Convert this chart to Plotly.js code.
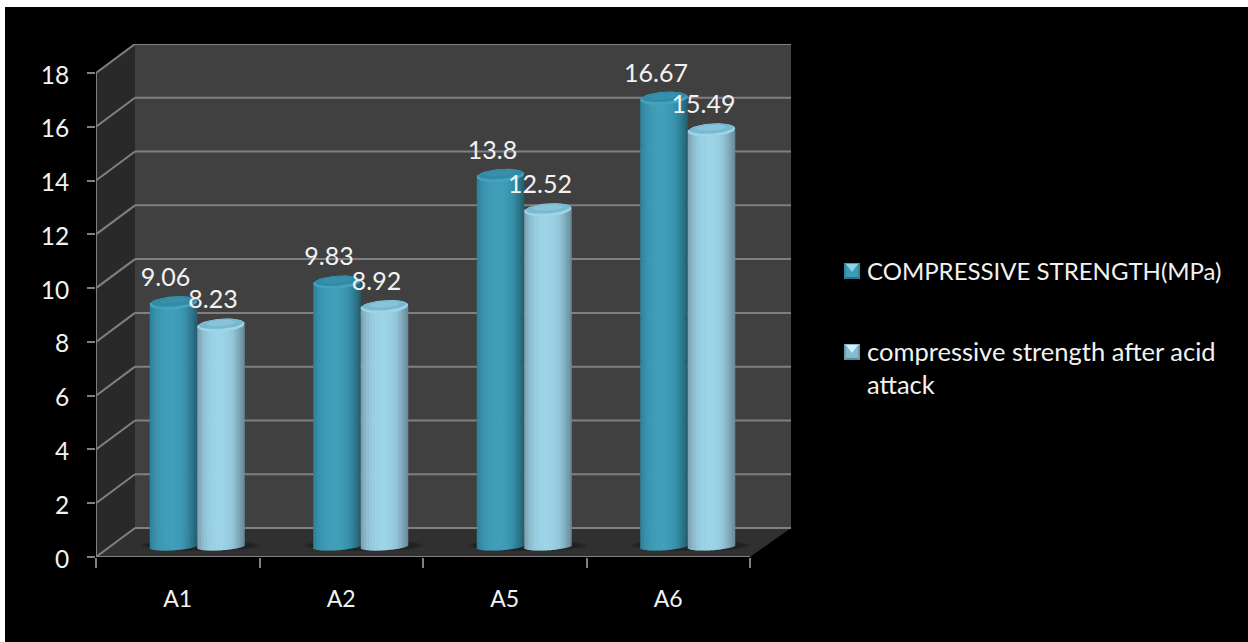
<!DOCTYPE html>
<html>
<head>
<meta charset="utf-8">
<script src="https://cdn.plot.ly/plotly-3.0.1.min.js"></script>
<style>html,body{margin:0;padding:0;background:#fff;overflow:hidden}#chart{width:1248px;height:642px}</style>
</head>
<body>
<div id="chart"></div>
<script>
// Compressive strength of four mixes, before and after acid attack.
const categories = ['A1', 'A2', 'A5', 'A6'];
const strengthBefore = [9.06, 9.83, 13.8, 16.67];
const strengthAfter = [8.23, 8.92, 12.52, 15.49];
const yTicks = [0, 2, 4, 6, 8, 10, 12, 14, 16, 18];
const seriesNames = ['COMPRESSIVE STRENGTH(MPa)', 'compressive strength after acid<br>attack'];

// Page geometry in pixels.
const W = 1248, H = 642;
const frontLeft = 96, frontRight = 750, frontBottom = 557, frontTop = 73;
const depthX = 41, depthY = 29;
const pxPerCat = (frontRight - frontLeft) / categories.length;
const pxPerUnit = (frontBottom - frontTop) / 18;
const dx = v => v / pxPerCat;   // pixel width to category units
const dy = v => v / pxPerUnit;  // pixel height to value units
const xAt = px => -0.5 + dx(px - frontLeft);
const xMax = xAt(frontRight + depthX);
const yMax = dy(frontBottom - (frontTop - depthY));

// Cylinder look: each column is a run of narrow bars shaded across its width.
const stripCount = 32;
const cylW = 47.5, capB = 6.5, baseB = 3.8, capTilt = 1.6, baseTilt = 1.6;
const floorLift = 10.5;   // cylinders stand in the middle of the floor's depth
const pairShift = 19.5;   // pair centre relative to the category centre
const rampTeal = ['#2f8199', '#3a93ad', '#3f9cb7', '#419fba', '#419fba', '#3e9ab4', '#3890a9', '#2d7a91', '#255c6d'];
const rampLight = ['#7d9fae', '#8fc0d2', '#9acfe3', '#9dd4e8', '#9dd4e8', '#9acfe3', '#92c5d8', '#80a9ba', '#66899a'];
const capTeal = ['#45a3be', '#2f8ba7', '#388fa9'];
const capLight = ['#9dd5e8', '#78b9d1', '#88c3d8'];

function hexMix(a, b, t) {
  const p = s => [1, 3, 5].map(i => parseInt(s.substr(i, 2), 16));
  const A = p(a), B = p(b);
  return 'rgb(' + A.map((v, i) => Math.round(v + (B[i] - v) * t)).join(',') + ')';
}
function rampColor(ramp, t) {
  const f = t * (ramp.length - 1), i = Math.min(Math.floor(f), ramp.length - 2);
  return hexMix(ramp[i], ramp[i + 1], f - i);
}

const traces = [];

function addCylinders(values, side, ramp, capColors, name) {
  // side -1: left column of the pair, +1: right column
  const left = pairShift + (side < 0 ? -cylW : 0);
  const stripW = cylW / stripCount;
  for (let s = 0; s < stripCount; s++) {
    const u = (s + 0.5) / stripCount * 2 - 1;
    const low = baseB * Math.sqrt(1 - u * u) + baseTilt * (-u);
    const bases = values.map(() => dy(floorLift - low));
    const tops = values.map((v, i) => v + dy(floorLift) - bases[i]);
    traces.push({
      type: 'bar', x: categories, y: tops, base: bases,
      offset: dx(left + s * stripW), width: dx(stripW + (s < stripCount - 1 ? 0.6 : 0)),
      marker: {color: rampColor(ramp, (s + 0.5) / stripCount), line: {width: 0}},
      name: name, showlegend: false, hoverinfo: 'skip'
    });
  }
  // Top of the cylinder: light rim, darker face, small highlight
  const ring = (cx, cy, a, b, tilt) => {
    const xs = [], ys = [];
    for (let k = 0; k <= 60; k++) {
      const t = k / 60 * 2 * Math.PI;
      xs.push(cx + dx(a * Math.cos(t)));
      ys.push(cy + dy(b * Math.sin(t) + tilt * Math.cos(t)));
    }
    return {xs, ys};
  };
  const layers = [
    [cylW / 2, capB, 0, capTilt, 0],
    [cylW / 2 - 1.5, capB - 1.6, 1.3, capTilt, 1],
    [cylW / 2 - 9, capB - 3.5, 2.2, capTilt * 0.6, 2]
  ];
  layers.forEach(l => {
    const xs = [], ys = [];
    values.forEach((v, i) => {
      const c = ring(i + dx(left + cylW / 2), v + dy(floorLift + l[2]), l[0], l[1], l[3]);
      xs.push(...c.xs, null); ys.push(...c.ys, null);
    });
    traces.push({
      type: 'scatter', mode: 'lines', x: xs, y: ys, xaxis: 'x2', yaxis: 'y', fill: 'toself',
      fillcolor: capColors[l[4]], line: {width: 0}, showlegend: false, hoverinfo: 'skip'
    });
  });
}

addCylinders(strengthBefore, -1, rampTeal, capTeal, 'COMPRESSIVE STRENGTH(MPa)');
addCylinders(strengthAfter, 1, rampLight, capLight, 'compressive strength after acid attack');

// Value labels sit up and to the left of each cylinder top.
function labelTrace(values, side) {
  const shift = pairShift + side * cylW / 2 - 8;
  return {
    type: 'scatter', mode: 'text', xaxis: 'x2', yaxis: 'y',
    x: values.map((v, i) => i + dx(shift)),
    y: values.map(v => v + dy(floorLift + 23)),
    text: values.map(String), textposition: 'middle center',
    textfont: {family: 'Lato, sans-serif', size: 25, color: '#f2f2f2'},
    cliponaxis: false, showlegend: false, hoverinfo: 'skip'
  };
}
traces.push(labelTrace(strengthBefore, -1), labelTrace(strengthAfter, 1));

// Box walls, floor and gridlines
const gridColor = '#808080';
const shapes = [];
const poly = (pts, fill, layer) => ({
  type: 'path', xref: 'x2', yref: 'y', layer: layer || 'below',
  path: pts.map((p, i) => (i ? 'L' : 'M') + p[0] + ',' + p[1]).join(' ') + ' Z',
  fillcolor: fill, line: {width: 0}
});
const backLeft = xAt(frontLeft + 39), backRight = xMax, lift = dy(depthY);
const fl = xAt(frontLeft), fr = xAt(frontRight);

shapes.push({type: 'rect', xref: 'paper', yref: 'paper', layer: 'below',
  x0: 5 / W, x1: 1, y0: 0, y1: 1 - 7 / H, fillcolor: '#000', line: {width: 0}});
shapes.push(poly([[backLeft, lift], [backRight, lift], [backRight, yMax], [backLeft, yMax]], '#404040'));
shapes.push(poly([[fl, 0], [backLeft, lift], [backLeft, yMax], [fl, 18]], '#292929'));
shapes.push(poly([[fl, 0], [backLeft, lift], [backRight, lift], [fr, 0]], '#303030'));

yTicks.forEach(v => {
  const line = {width: 2, color: gridColor};
  shapes.push({type: 'line', xref: 'x2', yref: 'y', layer: 'below', x0: backLeft, x1: backRight, y0: v + lift, y1: v + lift, line});
  shapes.push({type: 'line', xref: 'x2', yref: 'y', layer: 'below', x0: fl, x1: backLeft, y0: v, y1: v + lift, line});
});
// Axis lines along the front edges
shapes.push({type: 'line', xref: 'x2', yref: 'y', layer: 'below', x0: fl, x1: fl, y0: 0, y1: 18, line: {width: 2, color: gridColor}});
shapes.push({type: 'line', xref: 'x2', yref: 'y', layer: 'below', x0: fl, x1: fr, y0: 0, y1: 0, line: {width: 2, color: gridColor}});

// Soft contact shadows on the floor beside each pair
categories.forEach((c, i) => {
  [[-cylW - 9, cylW * 2 + 24, 5.5, 0.35], [-cylW - 4, cylW * 2 + 14, 4.5, 0.4]].forEach(s => {
    shapes.push({type: 'circle', xref: 'x2', yref: 'y', layer: 'below',
      x0: i + dx(pairShift + s[0]), x1: i + dx(pairShift + s[0] + s[1]),
      y0: dy(floorLift - s[2] + 1), y1: dy(floorLift + s[2] + 1),
      fillcolor: '#181818', opacity: s[3], line: {width: 0}});
  });
});

// Legend: bevelled swatches with the series names beside them
const px = v => v / W, py = v => 1 - v / H;
function swatch(x0, y0, size, base, top, bottom, side) {
  const P = (x, y) => px(x) + ',' + py(y);
  const x1 = x0 + size, y1 = y0 + size, mx = x0 + size / 2, my = y0 + size / 2 + 1;
  const tri = (pts, color) => ({type: 'path', xref: 'paper', yref: 'paper', layer: 'above',
    path: 'M' + pts.map(p => P(p[0], p[1])).join(' L') + ' Z', fillcolor: color, line: {width: 0}});
  shapes.push(tri([[x0, y0], [x1, y0], [x1, y1], [x0, y1]], base));
  shapes.push(tri([[x0, y1], [x1, y1], [x1 - 2, y1 - 2], [x0 + 2, y1 - 2]], bottom));
  shapes.push(tri([[x0, y0], [x0 + 2, y0 + 2], [x0 + 2, y1 - 2], [x0, y1]], side));
  shapes.push(tri([[x1, y0], [x1 - 2, y0 + 2], [x1 - 2, y1 - 2], [x1, y1]], side));
  shapes.push(tri([[x0 + 2, y0 + 1], [x1 - 2, y0 + 1], [mx, my]], top));
}
swatch(844, 263, 16, '#3f9cb7', '#8fd4e6', '#2b7088', '#33859e');
swatch(844, 344, 16, '#83bcd0', '#d5f0f8', '#5f8a9a', '#7099aa');

const annotations = [
  {xref: 'paper', yref: 'paper', x: px(865), y: py(270.5), xanchor: 'left', yanchor: 'middle',
   align: 'left', showarrow: false, text: seriesNames[0],
   font: {family: 'Lato, sans-serif', size: 24, color: '#f2f2f2'}},
  {xref: 'paper', yref: 'paper', x: px(865), y: py(368), xanchor: 'left', yanchor: 'middle',
   align: 'left', showarrow: false, text: seriesNames[1],
   font: {family: 'Lato, sans-serif', size: 25.5, color: '#f2f2f2'}}
];

const layout = {
  width: W, height: H,
  margin: {l: 0, r: 0, t: 0, b: 0, pad: 0},
  paper_bgcolor: '#ffffff', plot_bgcolor: 'rgba(0,0,0,0)',
  barmode: 'overlay', showlegend: false,
  xaxis: {
    domain: [frontLeft / W, (frontRight + depthX) / W],
    type: 'category', categoryorder: 'array', categoryarray: categories,
    range: [-0.5, xMax], tickson: 'boundaries', ticks: 'outside', ticklen: 10, tickwidth: 2,
    tickcolor: gridColor, showgrid: false, zeroline: false, showline: false,
    tickfont: {family: 'Lato, sans-serif', size: 23, color: '#f2f2f2'},
    ticklabelstandoff: 26
  },
  xaxis2: {
    domain: [frontLeft / W, (frontRight + depthX) / W], overlaying: 'x', anchor: 'y',
    type: 'linear', range: [-0.5, xMax], visible: false, showgrid: false, zeroline: false
  },
  yaxis: {
    domain: [1 - frontBottom / H, 1 - (frontTop - depthY) / H],
    range: [0, yMax], tickmode: 'array', tickvals: yTicks, ticktext: yTicks.map(String),
    ticks: 'outside', ticklen: 8, tickwidth: 2, tickcolor: gridColor,
    showgrid: false, zeroline: false, showline: false,
    tickfont: {family: 'Lato, sans-serif', size: 24.5, color: '#f2f2f2'},
    ticklabelstandoff: 13, ticklabelshift: 2
  },
  shapes, annotations, hovermode: false
};

Plotly.newPlot('chart', traces, layout, {displayModeBar: false, staticPlot: true});
</script>
</body>
</html>
